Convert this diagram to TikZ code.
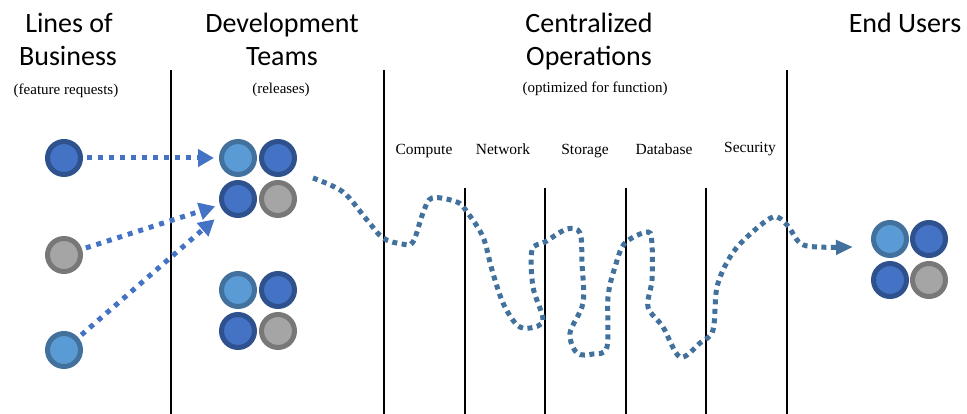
\documentclass[tikz,border=0pt]{standalone}
\usepackage{fontspec}
\setmainfont{Liberation Serif}
\newfontfamily\hdfont{Carlito}
\usetikzlibrary{arrows.meta}

\definecolor{dkblue}{HTML}{4472C4}
\definecolor{dkedge}{HTML}{2F528F}
\definecolor{ltblue}{HTML}{5B9BD5}
\definecolor{ltedge}{HTML}{41719C}
\definecolor{grfill}{HTML}{A5A5A5}
\definecolor{gredge}{HTML}{787878}
\definecolor{waveblue}{HTML}{41719C}

\begin{document}
\begin{tikzpicture}[x=1pt,y=-1pt,
    head/.style={font=\hdfont\fontsize{28}{30}\selectfont, anchor=base, inner sep=0},
    sub/.style={font=\fontsize{15}{17}\selectfont, anchor=base, inner sep=0},
    col/.style={font=\fontsize{15.5}{17}\selectfont, anchor=base, inner sep=0},
    ball/.style={circle, line width=5pt, minimum size=33pt, inner sep=0},
    dkball/.style={ball, draw=dkedge, fill=dkblue},
    ltball/.style={ball, draw=ltedge, fill=ltblue},
    grball/.style={ball, draw=gredge, fill=grfill},
    req/.style={draw=dkblue, line width=5pt, dash pattern=on 5pt off 6pt,
        -{Triangle[length=16pt,width=17pt]}, shorten <=4pt},
    wave/.style={draw=waveblue, line width=5pt, dash pattern=on 5pt off 4.5pt,
        -{Triangle[length=17pt,width=14pt]}}]
    \useasboundingbox (0,0) rectangle (967,414);

    % column separators
    \foreach \x in {171,384,787}
        {\draw[line width=2pt] (\x,70) -- (\x,414);}
    \foreach \x in {465,545,626,706}
        {\draw[line width=2pt] (\x,188) -- (\x,414);}

    % headings
    \node[head] (hlob1) at (69,33) {Lines of};
    \node[head] (hlob2) at (68,66) {Business};
    \node[sub] (slob) at (66,95) {(feature requests)};
    \node[head] (hdev1) at (282,33) {Development};
    \node[head] (hdev2) at (282,66) {Teams};
    \node[sub] (sdev) at (281,94) {(releases)};
    \node[head] (hops1) at (589,33) {Centralized};
    \node[head] (hops2) at (589,66) {Operations};
    \node[sub] (sops) at (595,93) {(optimized for function)};
    \node[head] (husr) at (905,33) {End Users};

    \node[col] (ccmp) at (424,155) {Compute};
    \node[col] (cnet) at (503,155) {Network};
    \node[col] (csto) at (585,155) {Storage};
    \node[col] (cdb) at (664,155) {Database};
    \node[col] (csec) at (750,153) {Security};

    % feature requests
    \node[dkball] (lob1) at (64,158) {};
    \node[grball] (lob2) at (64,255) {};
    \node[ltball] (lob3) at (64,350) {};

    % releases
    \node[ltball] (dev11) at (238,158) {};
    \node[dkball] (dev12) at (278,158) {};
    \node[dkball] (dev21) at (238,199) {};
    \node[grball] (dev22) at (278,199) {};
    \node[ltball] (rel11) at (238,290) {};
    \node[dkball] (rel12) at (278,290) {};
    \node[dkball] (rel21) at (238,331) {};
    \node[grball] (rel22) at (278,331) {};

    % end users
    \node[ltball] (usr11) at (890,239) {};
    \node[dkball] (usr12) at (929,239) {};
    \node[dkball] (usr21) at (890,280) {};
    \node[grball] (usr22) at (929,280) {};

    \draw[req, shorten >=5pt] (lob1) -- (dev11);
    \draw[req, shorten >=5pt] (lob2) -- (dev21);
    \draw[req, shorten >=12pt] (lob3) -- (dev21);

    % the long way through operations
    \coordinate (wstart) at (313,178);
    \coordinate (wend) at (853,247);
    \draw[wave] plot[smooth, tension=0.55] coordinates {(wstart) (343,192) (367,220)
        (383,238) (402,244) (413,242) (423,213) (432,198) (457,202) (467,212)
        (483,237) (492,270) (503,303) (517,325) (530,328) (543,320) (533,287)
        (532,250) (545,242) (567,229) (580,233) (582,263) (583,303) (570,333)
        (577,353) (593,354) (607,347) (608,297) (615,267) (625,243) (648,232)
        (652,245) (652,280) (648,307) (663,327) (680,357) (700,343) (713,330)
        (717,287) (730,257) (747,237) (773,217) (787,225) (800,243) (817,247)
        (wend)};
\end{tikzpicture}
\end{document}
